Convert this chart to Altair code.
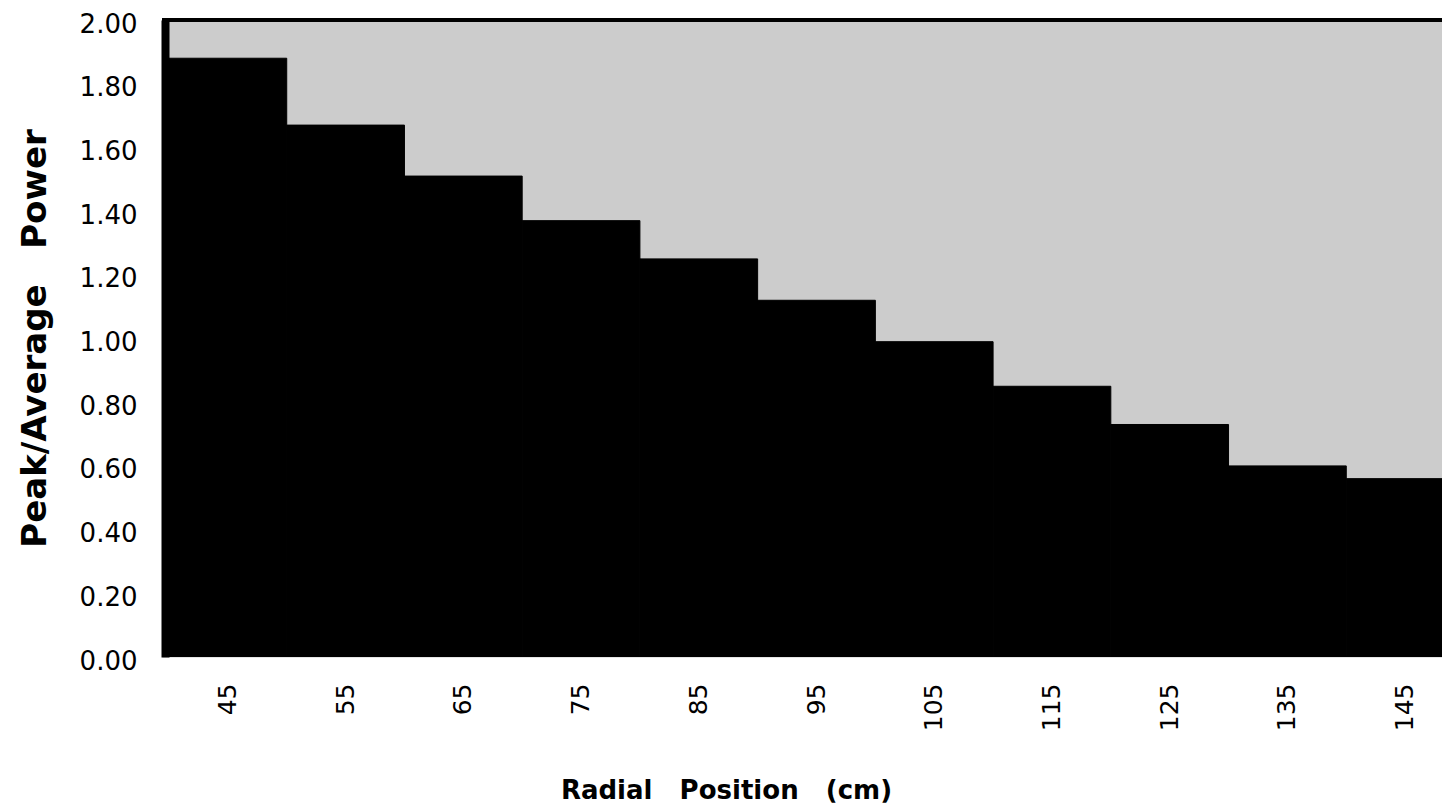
import altair as alt
import pandas as pd

# Radial positions (cm) and peak/average power values
positions = ["45", "55", "65", "75", "85", "95", "105", "115", "125", "135", "145"]
values = [1.88, 1.67, 1.51, 1.37, 1.25, 1.12, 0.99, 0.85, 0.73, 0.60, 0.56]
y_ticks = [0.0, 0.2, 0.4, 0.6, 0.8, 1.0, 1.2, 1.4, 1.6, 1.8, 2.0]
y_max = 2.0

df = pd.DataFrame({"pos": positions, "val": values})

NB = "\u00a0"
x_title = "Radial" + NB * 3 + "Position" + NB * 3 + "(cm)"
y_title = "Peak/Average" + NB * 3 + "Power"

y_scale = alt.Scale(domain=[0, y_max], nice=False, zero=True)

bars = (
    alt.Chart(df)
    .mark_bar(color="black", stroke="black", strokeWidth=1, clip=True)
    .encode(
        x=alt.X(
            "pos:O",
            sort=None,
            scale=alt.Scale(range=[7, 1302], paddingInner=0, paddingOuter=0),
            axis=alt.Axis(
                title=x_title,
                labelAngle=-90,
                labelFont="DejaVu Sans",
                labelFontSize=25,
                labelColor="black",
                labelPadding=26,
                ticks=False,
                domain=False,
                titleFont="DejaVu Sans",
                titleFontWeight="bold",
                titleFontSize=26,
                titleColor="black",
                titleX=564,
                titleY=141,
                titleBaseline="alphabetic",
            ),
        ),
        y=alt.Y(
            "val:Q",
            scale=y_scale,
            axis=alt.Axis(
                title=y_title,
                values=y_ticks,
                format=".2f",
                grid=False,
                ticks=False,
                domain=True,
                domainColor="black",
                domainWidth=8,
                offset=-3,
                labelFont="DejaVu Sans",
                labelFontSize=26,
                labelColor="black",
                labelPadding=28,
                labelOffset=4,
                titleFont="DejaVu Sans",
                titleFontWeight="bold",
                titleFontSize=34,
                titleColor="black",
                titleX=-130,
                titleY=318,
                titleBaseline="middle",
            ),
        ),
    )
)

top_line = (
    alt.Chart(df)
    .mark_rule(color="black", strokeWidth=3)
    .encode(y=alt.datum(y_max, scale=y_scale))
)

chart = (
    alt.layer(bars, top_line)
    .properties(
        width=1280,
        height=637,
        autosize=alt.AutoSizeParams(type="none"),
        padding={"left": 154, "top": 12, "right": 0, "bottom": 147},
        background="white",
    )
    .configure_view(fill="#cccccc", strokeOpacity=0)
)

chart.save("out.html", embed_options={"renderer": "svg", "actions": False})
